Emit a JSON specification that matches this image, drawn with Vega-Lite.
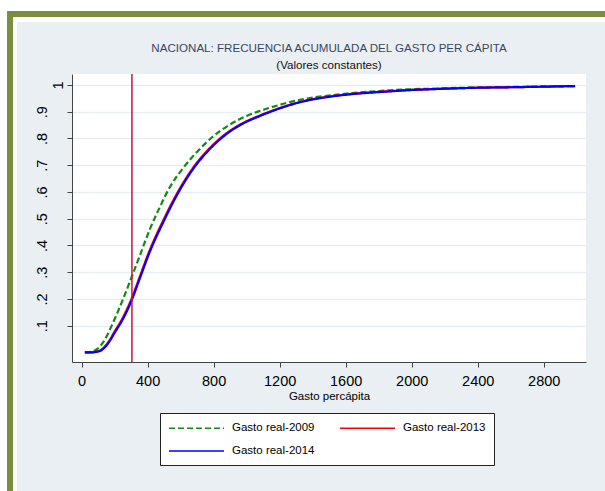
{
 "$schema": "https://vega.github.io/schema/vega-lite/v6.json",
 "background": "#e9eff2",
 "padding": 0,
 "spacing": 0,
 "config": {"font": "Liberation Sans", "view": {"stroke": null}},
 "vconcat": [
  {"width": 605, "height": 11, "mark": "rect", "data": {"values": []}, "view": {"fill": "#ffffff", "stroke": null}},
  {"spacing": 0, "hconcat": [
   {"width": 7, "height": 480, "mark": "rect", "data": {"values": []}, "view": {"fill": "#ffffff", "stroke": null}},
   {"spacing": 0, "vconcat": [
    {"width": 598, "height": 6, "mark": "rect", "data": {"values": []}, "view": {"fill": "#7b8d3e", "stroke": null}},
    {"spacing": 0, "hconcat": [
     {"width": 6, "height": 474, "mark": "rect", "data": {"values": []}, "view": {"fill": "#7b8d3e", "stroke": null}},
     {"width": 4, "height": 474, "mark": "rect", "data": {"values": []}, "view": {"fill": "#ffffff", "stroke": null}},
     {"spacing": 0, "vconcat": [
      {"width": 588, "height": 5, "mark": "rect", "data": {"values": []}, "view": {"fill": "#ffffff", "stroke": null}},
      {"spacing": 0, "hconcat": [
       {"width": 17, "height": 1, "mark": "rect", "data": {"values": []}},
       {"spacing": 0, "vconcat": [
        {"width": 1, "height": 21, "mark": "rect", "data": {"values": []}},
        {
         "width": 514,
         "height": 288,
         "view": {"fill": "#ffffff", "stroke": null},
         "title": {"text": "NACIONAL: FRECUENCIA ACUMULADA DEL GASTO PER CÁPITA", "subtitle": "(Valores constantes)", "anchor": "middle", "frame": "group", "fontSize": 11.6, "fontWeight": "normal", "color": "#3b4663", "subtitleFontSize": 11.6, "subtitleColor": "#111111", "subtitlePadding": 5, "offset": 2},
         "layer": [
          {
           "data": {"values": [
            {"serie": "Gasto real-2009", "gasto": 20, "frec": 0.0},
            {"serie": "Gasto real-2009", "gasto": 60, "frec": 0.003},
            {"serie": "Gasto real-2009", "gasto": 100, "frec": 0.015},
            {"serie": "Gasto real-2009", "gasto": 131, "frec": 0.038},
            {"serie": "Gasto real-2009", "gasto": 160, "frec": 0.07},
            {"serie": "Gasto real-2009", "gasto": 192, "frec": 0.113},
            {"serie": "Gasto real-2009", "gasto": 222, "frec": 0.155},
            {"serie": "Gasto real-2009", "gasto": 252, "frec": 0.2},
            {"serie": "Gasto real-2009", "gasto": 303, "frec": 0.281},
            {"serie": "Gasto real-2009", "gasto": 353, "frec": 0.362},
            {"serie": "Gasto real-2009", "gasto": 414, "frec": 0.461},
            {"serie": "Gasto real-2009", "gasto": 464, "frec": 0.53},
            {"serie": "Gasto real-2009", "gasto": 535, "frec": 0.618},
            {"serie": "Gasto real-2009", "gasto": 616, "frec": 0.69},
            {"serie": "Gasto real-2009", "gasto": 697, "frec": 0.748},
            {"serie": "Gasto real-2009", "gasto": 798, "frec": 0.808},
            {"serie": "Gasto real-2009", "gasto": 899, "frec": 0.852},
            {"serie": "Gasto real-2009", "gasto": 1000, "frec": 0.884},
            {"serie": "Gasto real-2009", "gasto": 1081, "frec": 0.903},
            {"serie": "Gasto real-2009", "gasto": 1142, "frec": 0.915},
            {"serie": "Gasto real-2009", "gasto": 1263, "frec": 0.936},
            {"serie": "Gasto real-2009", "gasto": 1384, "frec": 0.951},
            {"serie": "Gasto real-2009", "gasto": 1505, "frec": 0.961},
            {"serie": "Gasto real-2009", "gasto": 1626, "frec": 0.969},
            {"serie": "Gasto real-2009", "gasto": 1747, "frec": 0.975},
            {"serie": "Gasto real-2009", "gasto": 1868, "frec": 0.98},
            {"serie": "Gasto real-2009", "gasto": 1990, "frec": 0.984},
            {"serie": "Gasto real-2009", "gasto": 2111, "frec": 0.986},
            {"serie": "Gasto real-2009", "gasto": 2350, "frec": 0.99},
            {"serie": "Gasto real-2009", "gasto": 2650, "frec": 0.993},
            {"serie": "Gasto real-2009", "gasto": 2990, "frec": 0.996},
            {"serie": "Gasto real-2013", "gasto": 20, "frec": 0.0},
            {"serie": "Gasto real-2013", "gasto": 60, "frec": 0.0},
            {"serie": "Gasto real-2013", "gasto": 91, "frec": 0.003},
            {"serie": "Gasto real-2013", "gasto": 120, "frec": 0.01},
            {"serie": "Gasto real-2013", "gasto": 141, "frec": 0.022},
            {"serie": "Gasto real-2013", "gasto": 170, "frec": 0.046},
            {"serie": "Gasto real-2013", "gasto": 202, "frec": 0.08},
            {"serie": "Gasto real-2013", "gasto": 240, "frec": 0.119},
            {"serie": "Gasto real-2013", "gasto": 273, "frec": 0.159},
            {"serie": "Gasto real-2013", "gasto": 303, "frec": 0.201},
            {"serie": "Gasto real-2013", "gasto": 353, "frec": 0.284},
            {"serie": "Gasto real-2013", "gasto": 414, "frec": 0.384},
            {"serie": "Gasto real-2013", "gasto": 495, "frec": 0.494},
            {"serie": "Gasto real-2013", "gasto": 576, "frec": 0.592},
            {"serie": "Gasto real-2013", "gasto": 676, "frec": 0.691},
            {"serie": "Gasto real-2013", "gasto": 778, "frec": 0.765},
            {"serie": "Gasto real-2013", "gasto": 879, "frec": 0.82},
            {"serie": "Gasto real-2013", "gasto": 979, "frec": 0.858},
            {"serie": "Gasto real-2013", "gasto": 1081, "frec": 0.886},
            {"serie": "Gasto real-2013", "gasto": 1142, "frec": 0.901},
            {"serie": "Gasto real-2013", "gasto": 1263, "frec": 0.926},
            {"serie": "Gasto real-2013", "gasto": 1384, "frec": 0.945},
            {"serie": "Gasto real-2013", "gasto": 1505, "frec": 0.957},
            {"serie": "Gasto real-2013", "gasto": 1626, "frec": 0.966},
            {"serie": "Gasto real-2013", "gasto": 1747, "frec": 0.972},
            {"serie": "Gasto real-2013", "gasto": 1868, "frec": 0.977},
            {"serie": "Gasto real-2013", "gasto": 1990, "frec": 0.981},
            {"serie": "Gasto real-2013", "gasto": 2111, "frec": 0.984},
            {"serie": "Gasto real-2013", "gasto": 2353, "frec": 0.989},
            {"serie": "Gasto real-2013", "gasto": 2656, "frec": 0.992},
            {"serie": "Gasto real-2013", "gasto": 2990, "frec": 0.996},
            {"serie": "Gasto real-2014", "gasto": 20, "frec": 0.0},
            {"serie": "Gasto real-2014", "gasto": 60, "frec": 0.0},
            {"serie": "Gasto real-2014", "gasto": 91, "frec": 0.002},
            {"serie": "Gasto real-2014", "gasto": 120, "frec": 0.008},
            {"serie": "Gasto real-2014", "gasto": 141, "frec": 0.019},
            {"serie": "Gasto real-2014", "gasto": 170, "frec": 0.042},
            {"serie": "Gasto real-2014", "gasto": 202, "frec": 0.075},
            {"serie": "Gasto real-2014", "gasto": 240, "frec": 0.113},
            {"serie": "Gasto real-2014", "gasto": 273, "frec": 0.152},
            {"serie": "Gasto real-2014", "gasto": 303, "frec": 0.194},
            {"serie": "Gasto real-2014", "gasto": 353, "frec": 0.277},
            {"serie": "Gasto real-2014", "gasto": 414, "frec": 0.377},
            {"serie": "Gasto real-2014", "gasto": 495, "frec": 0.487},
            {"serie": "Gasto real-2014", "gasto": 576, "frec": 0.586},
            {"serie": "Gasto real-2014", "gasto": 676, "frec": 0.686},
            {"serie": "Gasto real-2014", "gasto": 778, "frec": 0.761},
            {"serie": "Gasto real-2014", "gasto": 879, "frec": 0.817},
            {"serie": "Gasto real-2014", "gasto": 979, "frec": 0.856},
            {"serie": "Gasto real-2014", "gasto": 1081, "frec": 0.884},
            {"serie": "Gasto real-2014", "gasto": 1142, "frec": 0.899},
            {"serie": "Gasto real-2014", "gasto": 1263, "frec": 0.925},
            {"serie": "Gasto real-2014", "gasto": 1384, "frec": 0.944},
            {"serie": "Gasto real-2014", "gasto": 1505, "frec": 0.956},
            {"serie": "Gasto real-2014", "gasto": 1626, "frec": 0.965},
            {"serie": "Gasto real-2014", "gasto": 1747, "frec": 0.971},
            {"serie": "Gasto real-2014", "gasto": 1868, "frec": 0.976},
            {"serie": "Gasto real-2014", "gasto": 1990, "frec": 0.981},
            {"serie": "Gasto real-2014", "gasto": 2111, "frec": 0.984},
            {"serie": "Gasto real-2014", "gasto": 2353, "frec": 0.989},
            {"serie": "Gasto real-2014", "gasto": 2656, "frec": 0.992},
            {"serie": "Gasto real-2014", "gasto": 2990, "frec": 0.996}
           ]},
           "mark": {"type": "line", "strokeWidth": 2.2, "interpolate": "monotone"},
           "encoding": {
            "x": {"field": "gasto", "type": "quantitative", "scale": {"domain": [-58, 3056], "nice": false, "zero": false},
             "axis": {"values": [0, 400, 800, 1200, 1600, 2000, 2400, 2800], "format": "d", "labelFontSize": 14.5, "labelPadding": 7, "tickSize": 5, "grid": false, "title": "Gasto percápita", "titleFontSize": 11.5, "titleFontWeight": "normal", "titlePadding": 3, "titleColor": "#000000", "labelColor": "#000000", "domainColor": "#444444", "tickColor": "#444444", "labelFlush": false, "labelOverlap": false}},
            "y": {"field": "frec", "type": "quantitative", "scale": {"domain": [-0.036, 1.041], "nice": false, "zero": false},
             "axis": {"values": [0.1, 0.2, 0.3, 0.4, 0.5, 0.6, 0.7, 0.8, 0.9, 1], "labelExpr": "datum.value == 1 ? '1' : '.' + round(datum.value * 10)", "labelAngle": -90, "labelAlign": "center", "labelBaseline": "alphabetic", "labelPadding": {"condition": {"test": "datum.value == 1", "value": 5}, "value": 21}, "labelFontSize": 14.5, "labelColor": "#000000", "tickSize": 5, "grid": true, "gridColor": "#e6eef1", "gridWidth": 1.5, "domainColor": "#444444", "tickColor": "#444444", "title": null}},
            "color": {"field": "serie", "type": "nominal", "scale": {"domain": ["Gasto real-2009", "Gasto real-2013", "Gasto real-2014"], "range": ["#138a13", "#ff0000", "#0000ff"]},
             "legend": {"title": null, "orient": "none", "legendX": 160, "legendY": 413, "direction": "horizontal", "columns": 2, "symbolType": "M-4.583,0H4.583", "symbolSize": 144, "symbolStrokeWidth": 1.5, "symbolOffset": 21.5, "labelFontSize": 11.5, "labelColor": "#000000", "labelOffset": 28.5, "columnPadding": 22, "rowPadding": 10, "padding": 8, "strokeColor": "#222222", "fillColor": "#ffffff", "labelLimit": 200}},
            "strokeDash": {"field": "serie", "type": "nominal", "scale": {"domain": ["Gasto real-2009", "Gasto real-2013", "Gasto real-2014"], "range": [[6, 3], [1, 0], [1, 0]]},
             "legend": {"title": null, "orient": "none", "legendX": 160, "legendY": 413, "direction": "horizontal", "columns": 2, "symbolType": "M-4.583,0H4.583", "symbolSize": 144, "symbolStrokeWidth": 1.5, "symbolOffset": 21.5, "labelFontSize": 11.5, "labelColor": "#000000", "labelOffset": 28.5, "columnPadding": 22, "rowPadding": 10, "padding": 8, "strokeColor": "#222222", "fillColor": "#ffffff", "labelLimit": 200}}
           }
          },
          {
           "data": {"values": [{"linea": 305}]},
           "mark": {"type": "rule", "color": "#c8153c", "strokeWidth": 1.5},
           "encoding": {"x": {"field": "linea", "type": "quantitative"}}
          }
         ]
        }
       ]}
      ]}
     ]}
    ]}
   ]}
  ]}
 ]
}
